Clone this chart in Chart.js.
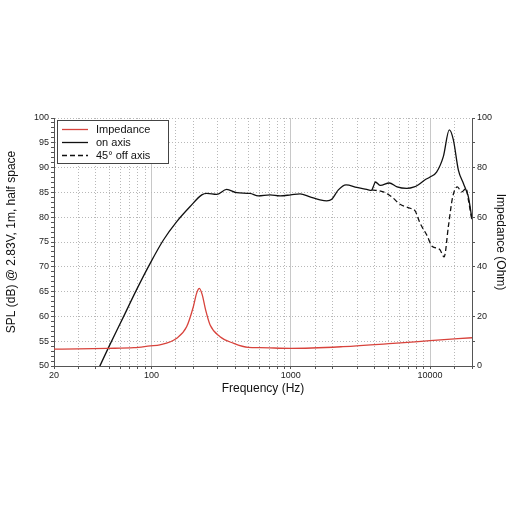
<!DOCTYPE html>
<html>
<head>
<meta charset="utf-8">
<script src="https://cdn.jsdelivr.net/npm/chart.js@4"></script>
<style>
  html, body { margin: 0; padding: 0; background: #fff; }
  #wrap { width: 512px; height: 512px; }
</style>
</head>
<body>
<div id="wrap"><canvas id="chart"></canvas></div>
<script>
// Impedance (Ohm, right axis)
const impFreq = [20, 30, 48, 75, 98, 115, 152, 179, 200, 211, 221, 232, 245, 264, 311, 387, 496, 602, 1000, 2370, 5420, 10000, 20000];
const impOhm  = [6.8, 6.9, 7.1, 7.4, 8.1, 8.5, 11.2, 15.8, 23.9, 29.3, 31.3, 28.6, 22.6, 16.5, 11.8, 9.2, 7.5, 7.4, 7.1, 7.8, 9.1, 10.2, 11.4];

// SPL on axis (dB, left axis)
const onFreq = [40, 49, 63, 78, 98, 122, 152, 189, 230, 250, 294, 347, 410, 510, 585, 710, 838, 1000, 1166, 1375, 1623, 1813, 1970, 2198, 2495, 2978, 3512, 3800, 3930, 4050, 4400, 5100, 5800, 6800, 7700, 8200, 9160, 10000, 11140, 12450, 13740, 14700, 15970, 17360, 18340, 18840, 20000];
const onDb   = [48.3, 53.6, 59.9, 65.3, 70.7, 75.4, 79.1, 82.1, 84.5, 84.8, 84.6, 85.6, 84.95, 84.8, 84.3, 84.5, 84.3, 84.5, 84.7, 84.1, 83.5, 83.3, 83.6, 85.5, 86.5, 86.0, 85.6, 85.4, 86.3, 87.1, 86.4, 86.9, 86.1, 85.8, 86.1, 86.5, 87.5, 88.1, 89.1, 92.2, 97.6, 95.6, 89.5, 86.8, 85.1, 84.1, 79.6];

// SPL 45 deg off axis (dB, left axis)
const offFreq = [3815, 4620, 5310, 6090, 7210, 7800, 8480, 9470, 10380, 11470, 11800, 12620, 13530, 14540, 15700, 16880, 18140, 18840, 20000];
const offDb   = [85.5, 85.1, 84.1, 82.6, 81.8, 81.3, 78.8, 76.4, 74.1, 73.7, 73.4, 72.0, 78.1, 84.1, 86.1, 85.1, 85.8, 83.5, 79.3];

const xLabels = [20, 100, 1000, 10000];
const decades = [100, 1000, 10000];

const pts = (xs, ys) => xs.map((x, i) => ({ x: x, y: ys[i] }));

const FONT = "'Liberation Sans', Arial, sans-serif";
const GRID = "#b8b8b8";

// boxed legend in the upper-left corner of the plot
const boxLegend = {
  id: "boxLegend",
  afterDraw(chart) {
    const ctx = chart.ctx;
    const a = chart.chartArea;
    const x0 = a.left + 3, y0 = a.top + 2, w = 111, h = 43;
    ctx.save();
    ctx.fillStyle = "#fff";
    ctx.fillRect(x0, y0, w, h);
    ctx.strokeStyle = "#444";
    ctx.lineWidth = 1;
    ctx.strokeRect(x0 + 0.5, y0 + 0.5, w, h);
    ctx.font = "11px " + FONT;
    ctx.textBaseline = "middle";
    chart.data.datasets.forEach((ds, i) => {
      const y = y0 + 9.5 + i * 13;
      ctx.strokeStyle = ds.borderColor;
      ctx.lineWidth = 1.3;
      ctx.setLineDash(ds.borderDash || []);
      ctx.beginPath();
      ctx.moveTo(x0 + 5, y);
      ctx.lineTo(x0 + 31, y);
      ctx.stroke();
      ctx.setLineDash([]);
      ctx.fillStyle = "#111";
      ctx.fillText(ds.label, x0 + 39, y + 0.5);
    });
    ctx.restore();
  }
};

new Chart(document.getElementById("chart"), {
  type: "line",
  data: {
    datasets: [
      {
        label: "Impedance",
        data: pts(impFreq, impOhm),
        yAxisID: "y2",
        borderColor: "#d8433c",
        borderWidth: 1.3,
        pointRadius: 0,
        cubicInterpolationMode: "monotone"
      },
      {
        label: "on axis",
        data: pts(onFreq, onDb),
        yAxisID: "y",
        borderColor: "#111",
        borderWidth: 1.3,
        pointRadius: 0,
        cubicInterpolationMode: "monotone"
      },
      {
        label: "45° off axis",
        data: pts(offFreq, offDb),
        yAxisID: "y",
        borderColor: "#111",
        borderWidth: 1.3,
        borderDash: [5, 3],
        pointRadius: 0,
        cubicInterpolationMode: "monotone"
      }
    ]
  },
  options: {
    responsive: true,
    maintainAspectRatio: false,
    animation: false,
    layout: { padding: { top: 118, bottom: 112, left: 0, right: 0 } },
    plugins: { legend: { display: false }, tooltip: { enabled: false } },
    scales: {
      x: {
        type: "logarithmic",
        min: 20,
        max: 20000,
        afterFit: (s) => { s.height = 34; },
        afterBuildTicks: (s) => {
          s.ticks = s.ticks.filter((t) => Math.round(t.value) >= 20);
        },
        grid: { color: GRID, tickColor: "#555", tickLength: 3 },
        border: { color: "#555", dash: [1, 2] },
        ticks: {
          autoSkip: false,
          maxRotation: 0,
          padding: 1,
          color: "#222",
          font: { family: FONT, size: 9 },
          callback: (v) => (xLabels.includes(Math.round(v)) ? String(Math.round(v)) : "")
        },
        title: {
          display: true,
          text: "Frequency (Hz)",
          color: "#111",
          font: { family: FONT, size: 12 },
          padding: { top: 4, bottom: 4 }
        }
      },
      xd: {
        type: "logarithmic",
        position: "bottom",
        min: 20,
        max: 20000,
        afterFit: (s) => { s.height = 0; },
        afterBuildTicks: (s) => { s.ticks = decades.map((v) => ({ value: v })); },
        grid: { color: "#c8c8c8", drawTicks: false },
        border: { display: false },
        ticks: { display: false }
      },
      y: {
        position: "left",
        min: 50,
        max: 100,
        afterFit: (s) => { s.width = 54; },
        afterBuildTicks: (s) => {
          s.ticks = [];
          for (let v = 50; v <= 100; v++) s.ticks.push({ value: v });
        },
        grid: {
          color: (c) => (c.tick && c.tick.value % 5 === 0 ? GRID : "rgba(0,0,0,0)"),
          tickColor: "#555",
          tickLength: 3
        },
        border: { color: "#555", dash: [1, 2] },
        ticks: {
          autoSkip: false,
          padding: 2,
          color: "#222",
          font: { family: FONT, size: 9 },
          callback: (v) => (v % 5 === 0 ? String(v) : "")
        },
        title: {
          display: true,
          text: "SPL (dB) @ 2.83V, 1m, half space",
          color: "#111",
          font: { family: FONT, size: 12 },
          padding: { top: 4, bottom: 4 }
        }
      },
      y2: {
        position: "right",
        min: 0,
        max: 100,
        afterFit: (s) => { s.width = 40; },
        afterBuildTicks: (s) => {
          s.ticks = [];
          for (let v = 0; v <= 100; v += 10) s.ticks.push({ value: v });
        },
        grid: { drawOnChartArea: false, tickColor: "#555", tickLength: 3 },
        border: { color: "#555" },
        ticks: {
          autoSkip: false,
          padding: 2,
          color: "#222",
          font: { family: FONT, size: 9 },
          callback: (v) => (v % 20 === 0 ? String(v) : "")
        },
        title: {
          display: true,
          text: "Impedance (Ohm)",
          color: "#111",
          font: { family: FONT, size: 12 },
          padding: { top: 4, bottom: 6 }
        }
      }
    }
  },
  plugins: [boxLegend]
});
</script>
</body>
</html>
